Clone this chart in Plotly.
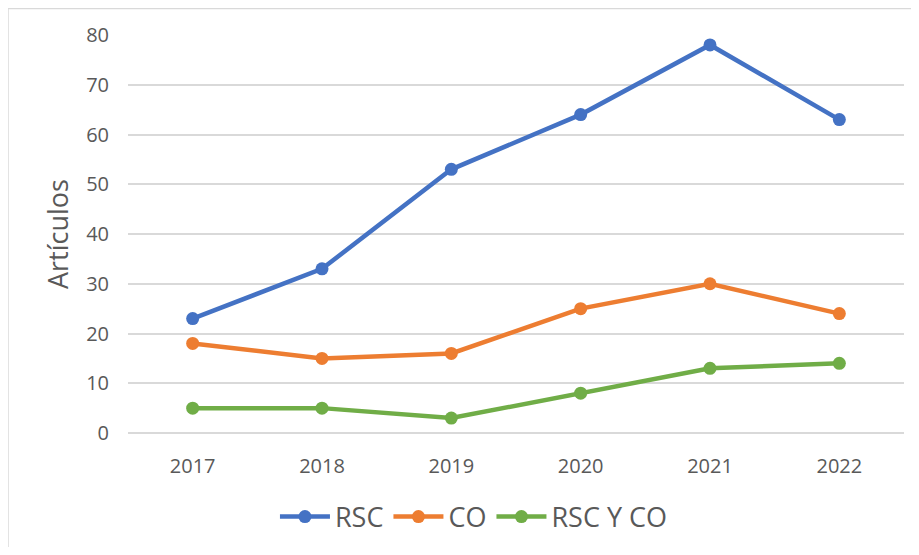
import plotly.graph_objects as go

years = ["2017", "2018", "2019", "2020", "2021", "2022"]
rsc = [23, 33, 53, 64, 78, 63]
co = [18, 15, 16, 25, 30, 24]
rsc_y_co = [5, 5, 3, 8, 13, 14]

series_names = ["RSC", "CO", "RSC Y CO"]
colors = ["#4472C4", "#ED7D31", "#70AD47"]
y_ticks = [0, 10, 20, 30, 40, 50, 60, 70, 80]

FONT = "Open Sans, Liberation Sans, sans-serif"
GREY = "#595959"

fig = go.Figure()
for name, vals, col in zip(series_names, [rsc, co, rsc_y_co], colors):
    fig.add_trace(go.Scatter(
        x=years, y=vals, name=name, mode="lines+markers",
        line=dict(color=col, width=4.5),
        marker=dict(color=col, size=13),
    ))

# page body has an 8px margin, so the figure is drawn 8px in from the window
OFF = 8
W, H = 919 - 2 * OFF, 555 - 2 * OFF
L = 128.4 - OFF
R = W - (903.6 - OFF)
T = 35 - OFF
B = H - (433 - OFF)
pw, ph = W - L - R, H - T - B

def px(x_ref):
    return (x_ref - OFF - L) / pw

def py(y_ref):
    return (H - B - (y_ref - OFF)) / ph

# chart-area border (top and left edges visible)
fig.add_shape(type="line", xref="paper", yref="paper",
              x0=px(OFF + 0.5), x1=px(930), y0=py(OFF + 0.5), y1=py(OFF + 0.5),
              line=dict(color="#D9D9D9", width=1.5))
fig.add_shape(type="line", xref="paper", yref="paper",
              x0=px(OFF + 0.5), x1=px(OFF + 0.5), y0=py(OFF + 0.5), y1=py(570),
              line=dict(color="#D9D9D9", width=1.5))

fig.update_layout(
    width=W, height=H,
    margin=dict(l=L, r=R, t=T, b=B, autoexpand=False),
    paper_bgcolor="white", plot_bgcolor="white",
    font=dict(family=FONT, color=GREY, size=20),
    showlegend=True,
    legend=dict(orientation="h", x=px(474), xanchor="center",
                y=py(517), yanchor="middle",
                font=dict(size=27, color=GREY, family=FONT),
                itemwidth=50, tracegroupgap=0),
    xaxis=dict(type="category", range=[-0.5, 5.5], showgrid=False,
               showline=False, zeroline=False, ticks="",
               ticklabelstandoff=19, tickfont=dict(size=20, color=GREY)),
    yaxis=dict(range=[0, 80], tickvals=y_ticks, showgrid=True,
               gridcolor="#D9D9D9", gridwidth=1.5, zeroline=True,
               zerolinecolor="#D9D9D9", zerolinewidth=1.5,
               showline=False, ticks="", ticklabelstandoff=18,
               tickfont=dict(size=20, color=GREY),
               title=dict(text="Artículos", standoff=9,
                          font=dict(size=27, color=GREY))),
)

fig.write_html("out.html")
